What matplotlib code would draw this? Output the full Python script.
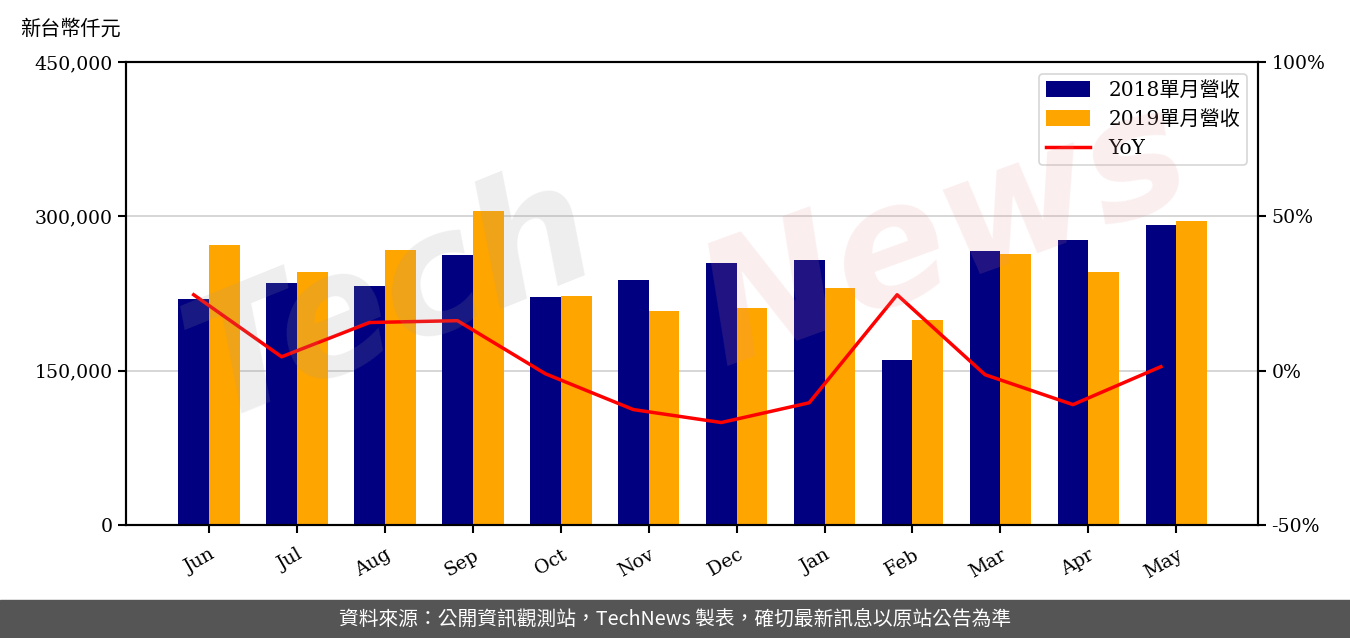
import matplotlib
matplotlib.use("Agg")
import matplotlib.pyplot as plt
import numpy as np
from matplotlib.ticker import FuncFormatter

months = ["Jun", "Jul", "Aug", "Sep", "Oct", "Nov", "Dec", "Jan", "Feb", "Mar", "Apr", "May"]
rev_2018 = [219600, 235200, 232300, 262400, 221600, 238100, 254600, 257500, 160300, 266300, 277000, 291500]
rev_2019 = [272100, 245900, 267200, 305100, 222500, 208000, 210900, 230300, 199200, 263400, 245900, 295400]
yoy = [24.6, 4.5, 15.6, 16.2, -1.0, -12.6, -16.8, -10.4, 24.6, -1.3, -11.0, 1.3]
left_ticks = [0, 150000, 300000, 450000]
right_ticks = [-50, 0, 50, 100]

plt.rcParams['font.family'] = ['DejaVu Serif', 'Noto Sans CJK TC']

fig = plt.figure(figsize=(13.5, 6.38), dpi=100)
ax = fig.add_axes([0.0933, 0.1771, 0.8386, 0.7257])
ax2 = ax.twinx()

x = np.arange(len(months))
w = 0.35
b1 = ax.bar(x - w / 2, rev_2018, w, color="#000080", label="2018單月營收", zorder=2)
b2 = ax.bar(x + w / 2, rev_2019, w, color="#FFA500", label="2019單月營收", zorder=2)
ax.set_ylim(0, 450000)
ax.set_yticks(left_ticks)
ax.yaxis.set_major_formatter(FuncFormatter(lambda v, p: f"{int(v):,}"))
ax.set_xlim(-0.945, 11.93)
ax.set_xticks(x)
ax.set_xticklabels(months, rotation=30, ha="right", rotation_mode="anchor")
ax.grid(axis="y", color="#d0d0d0", linewidth=1.2, zorder=0)
ax.set_axisbelow(True)

l1, = ax2.plot(x - w / 2, yoy, color="#FF0000", linewidth=2.5, label="YoY", zorder=3)
ax2.set_ylim(-50, 100)
ax2.set_yticks(right_ticks)
ax2.yaxis.set_major_formatter(FuncFormatter(lambda v, p: f"{int(v)}%"))

for a in (ax, ax2):
    for s in a.spines.values():
        s.set_linewidth(1.5)
        s.set_color("black")
    a.tick_params(axis="both", labelsize=13.6, width=1.5, length=6, direction="out")
ax.tick_params(axis="x", pad=9)

leg = ax2.legend(handles=[b1, b2, l1], loc="upper right", fontsize=14.5,
                 frameon=True, fancybox=True, edgecolor="#cccccc",
                 handlelength=2.2, handleheight=0.8, handletextpad=0.9, borderpad=0.35,
                 labelspacing=0.5, bbox_to_anchor=(0.9995, 0.996))
leg.get_frame().set_linewidth(1.2)

fig.text(0.0148, 0.955, "新台幣仟元", fontsize=14.5, ha="left", va="center",
         family=['Noto Sans CJK TC'])

# watermark
fig.text(0.29, 0.53, "Tech", fontsize=120, color="#9a9a9a", alpha=0.17, rotation=22,
         ha="center", va="center", family=['DejaVu Sans'], style="italic",
         fontweight="bold", zorder=10)
fig.text(0.70, 0.63, "News", fontsize=120, color="#e89090", alpha=0.15, rotation=20,
         ha="center", va="center", family=['DejaVu Sans'], style="italic",
         fontweight="bold", zorder=10)

# footer band
fig.patches.append(plt.Rectangle((0, 0), 1, 38 / 638, transform=fig.transFigure,
                                 color="#555555", zorder=0))
fig.text(0.5, 19 / 638, "資料來源：公開資訊觀測站，TechNews 製表，確切最新訊息以原站公告為準",
         color="white", fontsize=14.2, ha="center", va="center",
         family=['Noto Sans CJK TC'])

fig.savefig("out.png", dpi=100)
